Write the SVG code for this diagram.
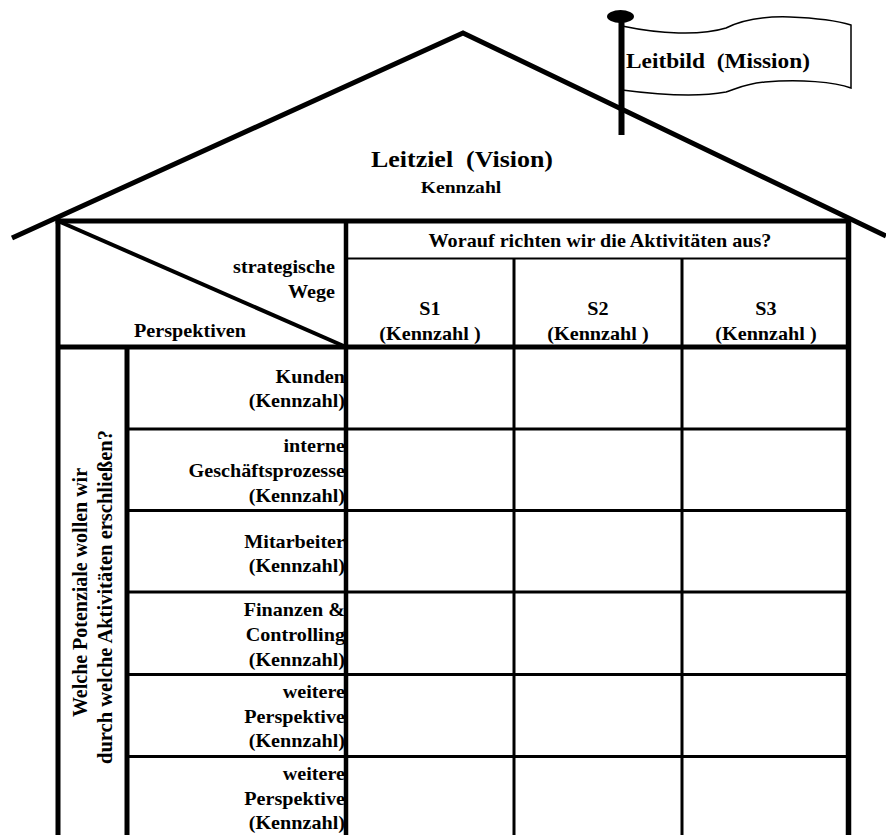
<svg xmlns="http://www.w3.org/2000/svg" width="886" height="835" viewBox="0 0 886 835">
  <style>
    text { font-family: "Liberation Serif", "Times New Roman", serif; font-weight: bold; fill: #000; }
    .ln { stroke: #000; fill: none; stroke-linecap: butt; }
    .thick { stroke-width: 5; }
    .mid { stroke-width: 3; }
    .thin { stroke-width: 2; }
    .lbl { font-size: 18px; text-anchor: end; }
    .ctr { font-size: 18px; text-anchor: middle; }
    .side { font-size: 20px; text-anchor: middle; }
  </style>

  <rect width="886" height="835" fill="#fff"/>

  <!-- roof -->
  <g id="roof">
    <polyline class="ln thick" points="12,238 463,33 886,236" stroke-linejoin="miter"/>
  </g>

  <!-- flag with pole -->
  <g id="flag">
    <path d="M622,26 C660,34 700,36 726,28 C740,21 760,16 790,17 C815,18 835,20 851,25 L851,88 C835,82 800,79 765,82 C745,84 738,88 726,92 C700,97 660,95 622,90 Z" fill="#fff" stroke="#000" stroke-width="1.5"/>
    <rect x="618.5" y="16" width="6" height="119" fill="#000"/>
    <ellipse cx="620.5" cy="16.5" rx="13.5" ry="6.5" fill="#000"/>
    <text x="626" y="68" font-size="22" textLength="184" lengthAdjust="spacingAndGlyphs" xml:space="preserve">Leitbild  (Mission)</text>
  </g>

  <!-- vision title under the roof -->
  <g id="vision">
    <text x="371" y="167" font-size="23" textLength="182" lengthAdjust="spacingAndGlyphs" xml:space="preserve">Leitziel  (Vision)</text>
    <text x="461" y="193" font-size="17.5" text-anchor="middle" transform="translate(461 0) scale(1.12 1) translate(-461 0)">Kennzahl</text>
  </g>

  <!-- house frame and grid -->
  <g id="grid">
    <line class="ln thick" x1="55.5" y1="221" x2="851" y2="221"/>
    <line class="ln thick" x1="58" y1="218" x2="58" y2="835"/>
    <line class="ln" stroke-width="5.5" x1="848.5" y1="218" x2="848.5" y2="835"/>
    <line class="ln" stroke-width="4" x1="58" y1="221" x2="346" y2="347"/>
    <line class="ln" stroke-width="4.5" x1="346" y1="221" x2="346" y2="835"/>
    <line class="ln thin" x1="346" y1="258.5" x2="849" y2="258.5"/>
    <line class="ln mid" x1="514" y1="258" x2="514" y2="835"/>
    <line class="ln mid" x1="682" y1="258" x2="682" y2="835"/>
    <line class="ln thick" x1="56" y1="347" x2="850" y2="347"/>
    <line class="ln thick" x1="127" y1="347" x2="127" y2="835"/>
    <line class="ln mid" x1="127" y1="429" x2="849" y2="429"/>
    <line class="ln mid" x1="127" y1="510.5" x2="849" y2="510.5"/>
    <line class="ln mid" x1="127" y1="592" x2="849" y2="592"/>
    <line class="ln mid" x1="127" y1="674.5" x2="849" y2="674.5"/>
    <line class="ln mid" x1="127" y1="756.5" x2="849" y2="756.5"/>
  </g>

  <!-- corner cell -->
  <g id="corner">
    <text class="lbl" transform="translate(335 273) scale(1.12 1)">strategische</text>
    <text class="lbl" transform="translate(335 298) scale(1.12 1)">Wege</text>
    <text font-size="18" transform="translate(134 337) scale(1.12 1)">Perspektiven</text>
  </g>

  <!-- strategy header -->
  <g id="header">
    <text class="ctr" transform="translate(600 247) scale(1.12 1)">Worauf richten wir die Aktivitäten aus?</text>
  </g>
  <g id="s1">
    <text class="ctr" transform="translate(430 315) scale(1.12 1)">S1</text>
    <text class="ctr" transform="translate(430 340) scale(1.12 1)" xml:space="preserve">(Kennzahl )</text>
  </g>
  <g id="s2">
    <text class="ctr" transform="translate(598 315) scale(1.12 1)">S2</text>
    <text class="ctr" transform="translate(598 340) scale(1.12 1)" xml:space="preserve">(Kennzahl )</text>
  </g>
  <g id="s3">
    <text class="ctr" transform="translate(766 315) scale(1.12 1)">S3</text>
    <text class="ctr" transform="translate(766 340) scale(1.12 1)" xml:space="preserve">(Kennzahl )</text>
  </g>

  <!-- side question -->
  <g id="question">
    <text class="side" transform="translate(87 592.5) rotate(-90)" textLength="249" lengthAdjust="spacingAndGlyphs">Welche Potenziale wollen wir</text>
    <text class="side" transform="translate(112 597) rotate(-90)" textLength="334" lengthAdjust="spacingAndGlyphs">durch welche Aktivitäten erschließen?</text>
  </g>

  <!-- perspective rows -->
  <g id="kunden">
    <text class="lbl" transform="translate(345 383) scale(1.12 1)">Kunden</text>
    <text class="lbl" transform="translate(345 407) scale(1.12 1)">(Kennzahl)</text>
  </g>
  <g id="prozesse">
    <text class="lbl" transform="translate(345 452) scale(1.12 1)">interne</text>
    <text class="lbl" transform="translate(345 477) scale(1.12 1)">Geschäftsprozesse</text>
    <text class="lbl" transform="translate(345 502) scale(1.12 1)">(Kennzahl)</text>
  </g>
  <g id="mitarbeiter">
    <text class="lbl" transform="translate(345 548) scale(1.12 1)">Mitarbeiter</text>
    <text class="lbl" transform="translate(345 572) scale(1.12 1)">(Kennzahl)</text>
  </g>
  <g id="finanzen">
    <text class="lbl" transform="translate(345 616) scale(1.12 1)">Finanzen &amp;</text>
    <text class="lbl" transform="translate(345 641) scale(1.12 1)">Controlling</text>
    <text class="lbl" transform="translate(345 666) scale(1.12 1)">(Kennzahl)</text>
  </g>
  <g id="weitere1">
    <text class="lbl" transform="translate(345 698) scale(1.12 1)">weitere</text>
    <text class="lbl" transform="translate(345 723) scale(1.12 1)">Perspektive</text>
    <text class="lbl" transform="translate(345 747) scale(1.12 1)">(Kennzahl)</text>
  </g>
  <g id="weitere2">
    <text class="lbl" transform="translate(345 780) scale(1.12 1)">weitere</text>
    <text class="lbl" transform="translate(345 805) scale(1.12 1)">Perspektive</text>
    <text class="lbl" transform="translate(345 829) scale(1.12 1)">(Kennzahl)</text>
  </g>
</svg>
